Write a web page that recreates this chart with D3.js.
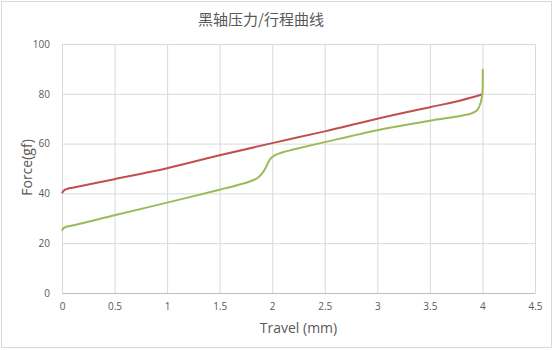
<!DOCTYPE html>
<html>
<head>
<meta charset="utf-8">
<script src="https://cdn.jsdelivr.net/npm/d3@7"></script>
<style>
  body { margin: 0; background: #fff; }
  text { font-family: "Open Sans", "Noto Sans", sans-serif; fill: #595959; }
</style>
</head>
<body>
<div id="chart"></div>
<script>
// Chart data
const xTicks = [0, 0.5, 1, 1.5, 2, 2.5, 3, 3.5, 4, 4.5];
const yTicks = [0, 20, 40, 60, 80, 100];

const redTravel = [0, 0.01, 0.03, 0.06, 0.1, 0.5, 1.0, 1.5, 2.0, 2.5, 3.0, 3.5, 3.8, 4.0];
const redForce = [40, 40.8, 41.5, 42, 42.3, 45.7, 50.1, 55.3, 60.2, 64.9, 70, 74.6, 77.4, 79.8];

const greenTravel = [0, 0.01, 0.03, 0.06, 0.1, 0.5, 1.0, 1.5, 1.7, 1.8, 1.86, 1.9, 1.94, 1.98, 2.02, 2.1, 2.2, 2.5, 3.0, 3.5, 3.8, 3.9, 3.95, 3.98, 4.0, 4.003, 4.003];
const greenForce = [25, 25.8, 26.4, 26.8, 27.1, 31.2, 36.3, 41.5, 43.7, 45, 46.2, 47.8, 50.5, 53.8, 55.2, 56.5, 57.6, 60.6, 65.4, 69.2, 71.2, 72.2, 73.4, 76, 80.5, 85, 90];

const width = 554, height = 350;
const margin = { top: 44, right: 19, bottom: 57, left: 62 };
const innerW = width - margin.left - margin.right;
const innerH = height - margin.top - margin.bottom;

const svg = d3.select("#chart").append("svg")
  .attr("width", width)
  .attr("height", height);

// chart frame
svg.append("rect")
  .attr("x", 1.5).attr("y", 1.5)
  .attr("width", 550).attr("height", 346)
  .attr("fill", "#fff")
  .attr("stroke", "#d9d9d9");

const g = svg.append("g")
  .attr("transform", `translate(${margin.left},${margin.top})`);

const x = d3.scaleLinear().domain([0, 4.5]).range([0, innerW]);
const y = d3.scaleLinear().domain([0, 100]).range([innerH, 0]);

// grid lines
g.append("g")
  .call(d3.axisBottom(x).tickValues(xTicks).tickSize(innerH).tickFormat(""))
  .call((s) => s.select(".domain").remove())
  .selectAll(".tick line")
  .attr("stroke", "#d9d9d9");

g.append("g")
  .call(d3.axisLeft(y).tickValues(yTicks).tickSize(-innerW).tickFormat(""))
  .call((s) => s.select(".domain").remove())
  .selectAll(".tick line")
  .attr("stroke", "#d9d9d9");

// tick labels
const xAxis = g.append("g")
  .attr("transform", `translate(0,${innerH})`)
  .call(d3.axisBottom(x).tickValues(xTicks).tickSize(0).tickPadding(10).tickFormat(d3.format("")));
xAxis.select(".domain").attr("stroke", "#bfbfbf");
xAxis.selectAll("text").style("font-size", "10px").attr("fill", "#595959");

const yAxis = g.append("g")
  .call(d3.axisLeft(y).tickValues(yTicks).tickSize(0).tickPadding(12));
yAxis.select(".domain").remove();
yAxis.selectAll("text").style("font-size", "10px").attr("fill", "#595959");

// lines
const line = d3.line()
  .x((d) => x(d[0]))
  .y((d) => y(d[1]))
  .curve(d3.curveCatmullRom.alpha(0.5));

g.append("path")
  .datum(redTravel.map((t, i) => [t, redForce[i]]))
  .attr("fill", "none")
  .attr("stroke", "#c0504d")
  .attr("stroke-width", 2)
  .attr("d", line);

g.append("path")
  .datum(greenTravel.map((t, i) => [t, greenForce[i]]))
  .attr("fill", "none")
  .attr("stroke", "#9bbb59")
  .attr("stroke-width", 2)
  .attr("d", line);

// title and axis labels
svg.append("text")
  .attr("x", 261)
  .attr("y", 25)
  .attr("text-anchor", "middle")
  .style("font-family", "'Noto Sans CJK SC', sans-serif")
  .style("font-size", "15px")
  .text("黑轴压力/行程曲线");

svg.append("text")
  .attr("x", margin.left + innerW / 2)
  .attr("y", 333)
  .attr("text-anchor", "middle")
  .style("font-size", "14px")
  .text("Travel (mm)");

svg.append("text")
  .attr("transform", `translate(32,${margin.top + innerH / 2 - 1}) rotate(-90)`)
  .attr("text-anchor", "middle")
  .style("font-size", "14px")
  .text("Force(gf)");
</script>
</body>
</html>
